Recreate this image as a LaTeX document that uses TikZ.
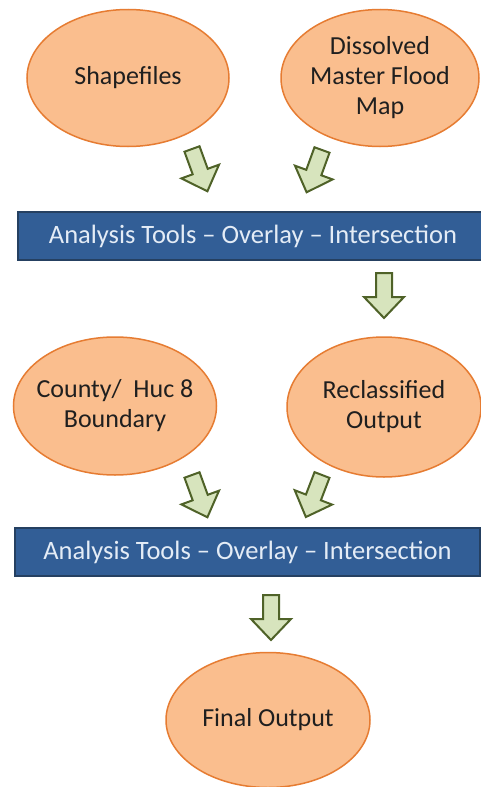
\documentclass[tikz,border=0pt]{standalone}
\usepackage{fontspec}
\setmainfont{Carlito}
\usetikzlibrary{shapes.geometric}
\definecolor{ovalfill}{RGB}{250,190,142}
\definecolor{ovaledge}{RGB}{230,124,50}
\definecolor{barfill}{RGB}{50,94,150}
\definecolor{baredge}{RGB}{37,64,97}
\definecolor{bartext}{RGB}{228,236,246}
\definecolor{arrfill}{RGB}{215,228,189}
\definecolor{arredge}{RGB}{79,98,40}
\begin{document}
\begin{tikzpicture}[x=1pt,y=-1pt,
  oval/.style={ellipse, draw=ovaledge, line width=1.5pt, fill=ovalfill, inner sep=-30pt,
    align=center, text=black!88, font=\fontsize{26}{30}\selectfont},
  bar/.style={rectangle, draw=baredge, line width=1.5pt, fill=barfill, inner sep=0pt,
    text=bartext, font=\fontsize{26.5}{30}\selectfont, minimum height=48pt},
  fatarrow/.pic={\draw[draw=arredge, fill=arrfill, line width=2pt, line join=miter]
    (-8,0) -- (8,0) -- (8,24) -- (20,24) -- (0,45) -- (-20,24) -- (-8,24) -- cycle;}]
\useasboundingbox (0,0) rectangle (481,787);
\fill[white] (0,0) rectangle (481,787);
\clip (0,0) rectangle (481,787);

\node[oval, minimum width=202pt, minimum height=137pt] (shp) at (128,78) {Shapefiles};
\node[oval, minimum width=198pt, minimum height=137pt] (dmf) at (380,78) {Dissolved\\Master Flood\\Map};

\node[bar, minimum width=470pt] (bar1) at (253,236) {Analysis Tools -- Overlay -- Intersection};

\node[oval, minimum width=203pt, minimum height=138pt] (cty) at (115,406) {County/~ Huc 8\\Boundary};
\node[oval, minimum width=194pt, minimum height=140pt] (rcl) at (384,407) {Reclassified\\Output};

\node[bar, minimum width=465pt] (bar2) at (247.5,552) {Analysis Tools -- Overlay -- Intersection};

\node[oval, minimum width=204pt, minimum height=135pt] (fin) at (268,720) {Final Output};

\pic[rotate=20] (a1) at (192,149) {fatarrow};
\pic[rotate=-20] (a2) at (322,150) {fatarrow};
\pic (a3) at (384,273) {fatarrow};
\pic[rotate=20] (a4) at (192,475) {fatarrow};
\pic[rotate=-21] (a5) at (322,475) {fatarrow};
\pic (a6) at (271,595) {fatarrow};
\end{tikzpicture}
\end{document}
